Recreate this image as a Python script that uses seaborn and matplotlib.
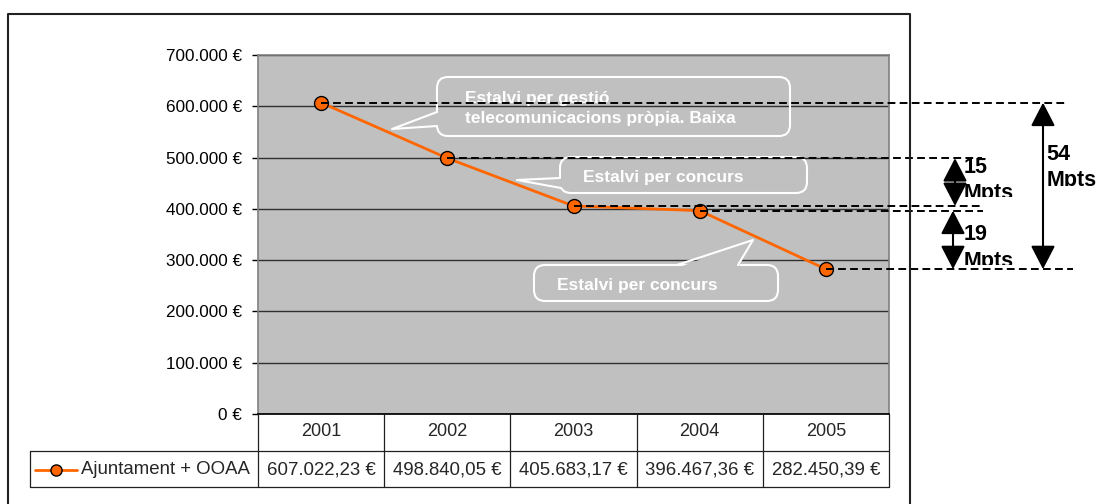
import matplotlib
matplotlib.use("Agg")
import matplotlib.pyplot as plt
import seaborn as sns
from matplotlib.patches import FancyBboxPatch, Polygon
from matplotlib.lines import Line2D
from matplotlib.transforms import Affine2D, Bbox, TransformedBbox, blended_transform_factory

# data
years = [2001, 2002, 2003, 2004, 2005]
cost = [607022.23, 498840.05, 405683.17, 396467.36, 282450.39]
series_name = "Ajuntament + OOAA"
yticks = [0, 100000, 200000, 300000, 400000, 500000, 600000, 700000]
callout_texts = ["Estalvi per gestió\ntelecomunicacions pròpia. Baixa",
                 "Estalvi per concurs", "Estalvi per concurs"]
gap_texts = ["15\nMpts", "19\nMpts", "54\nMpts"]

ORANGE = "#FF6600"
GREY = "#C0C0C0"


def euro(v, dec=0):
    s = f"{v:,.{dec}f}".replace(",", "X").replace(".", ",").replace("X", ".")
    return s + " €"


sns.set_theme(style="white")
plt.rcParams["font.family"] = ["Liberation Sans", "DejaVu Sans"]

W, H = 1098, 504
L, R, T, B = 258, 889, 55, 414   # plot area in pixels

fig = plt.figure(figsize=(W / 100, H / 100), dpi=100)
ax = fig.add_axes([L / W, 1 - B / H, (R - L) / W, (B - T) / H])
ax.set_facecolor(GREY)

# pixel coords (origin top-left) -> display
PX = Affine2D().scale(1 / W, -1 / H).translate(0, 1) + fig.transFigure
XPX = blended_transform_factory(ax.transData, PX)


def xd(px):
    return years[0] - 0.5 + (px - L) / (R - L) * len(years)


sns.lineplot(x=years, y=cost, ax=ax, color=ORANGE, linewidth=2, marker="o",
             markersize=10, markeredgecolor="black", markeredgewidth=1, zorder=5)

ax.set_xlim(years[0] - 0.5, years[-1] + 0.5)
ax.set_ylim(0, 700000)
ax.set_yticks(yticks)
ax.set_yticklabels([euro(v) for v in yticks])
ax.set_xticks([])
ax.set_xlabel("")
ax.set_ylabel("")
ax.tick_params(axis="y", left=True, length=4.5, width=1, color="black",
               pad=7, labelsize=12.3, labelcolor="black")
ax.grid(axis="y", color="#303030", lw=1)
ax.set_axisbelow(True)
for s in ["left", "top", "right"]:
    ax.spines[s].set_color("#808080")
    ax.spines[s].set_linewidth(1.2)
ax.spines["bottom"].set_color("black")

# dashed guide lines from each point
ends = [1068, 982, 983, 983, 1073]
for yr, v, e in zip(years, cost, ends):
    ax.plot([yr, xd(e)], [v, v], color="black", lw=1.4, ls=(0, (4, 2.2)),
            clip_on=False, zorder=6)

# double arrows
arrow_kw = dict(arrowstyle="<|-|>,head_length=1.45,head_width=0.75", color="black",
                lw=1.5, shrinkA=0, shrinkB=0, mutation_scale=10)
for xpx, i, j in [(955, 1, 2), (953, 3, 4), (1043, 0, 4)]:
    ax.annotate("", xy=(xd(xpx), cost[i]), xytext=(xd(xpx), cost[j]),
                arrowprops=arrow_kw, annotation_clip=False)

# gap labels: (x, first baseline, second baseline, clip bottom) in pixels
gap_pos = [(964, 172.7, 199.4, 197.3), (964, 240.1, 267.1, 265), (1046.5, 160.1, 185.6, 186)]
for txt, (x, b1, b2, clip) in zip(gap_texts, gap_pos):
    for line, b in zip(txt.split("\n"), (b1, b2)):
        t = fig.text(x, b, line, transform=PX, ha="left", va="baseline",
                     fontsize=15.5, fontweight="bold", color="black")
        t.set_clip_box(TransformedBbox(Bbox([[0, 1 - clip / H], [1, 1]]), fig.transFigure))

# callouts: box, tail (base, tip, base), text left x and first baseline
callouts = [
    ((437, 77, 790, 136), [(437, 112), (392, 129), (437, 126)], (465, 102.7)),
    ((560, 157, 807, 193), [(560, 178), (517, 180), (561, 188)], (583, 182.3)),
    ((534, 265, 778, 301), [(677, 265), (753, 240), (738, 265)], (557, 290)),
]
for txt, (box, tail, tpos) in zip(callout_texts, callouts):
    x0, y0, x1, y1 = box
    ax.add_patch(FancyBboxPatch((x0, y0), x1 - x0, y1 - y0,
                                boxstyle="round,pad=0,rounding_size=11",
                                transform=PX, fc="none", ec="white", lw=1.5,
                                clip_on=False, zorder=3))
    b1, tip, b2 = tail
    # push the base slightly into the box so the edge under the tail is hidden
    inner = []
    for bx, by in (b1, b2):
        dx = 3 if bx <= x0 + 1 else (-3 if bx >= x1 - 1 else 0)
        dy = 3 if by <= y0 + 1 else (-3 if by >= y1 - 1 else 0)
        inner.append((bx + dx, by + dy))
    ax.add_patch(Polygon([inner[0], tip, inner[1]], closed=True, transform=PX,
                         fc=GREY, ec="none", clip_on=False, zorder=3.1))
    ax.add_line(Line2D([b1[0], tip[0], b2[0]], [b1[1], tip[1], b2[1]],
                       transform=PX, color="white", lw=1.5, clip_on=False, zorder=3.2))
    for k, line in enumerate(txt.split("\n")):
        ax.text(tpos[0], tpos[1] + 20 * k, line, transform=PX, ha="left",
                va="baseline", fontsize=12.5, fontweight="bold", color="white",
                zorder=3.3)

# data table under the axis
edges = [y - 0.5 for y in years] + [years[-1] + 0.5]
for e in edges:
    fig.add_artist(Line2D([e, e], [B, 487], transform=XPX, color="#202020", lw=0.9))
fig.add_artist(Line2D([30, 30], [451, 487], transform=PX, color="#202020", lw=0.9))
for yy in (451, 487):
    fig.add_artist(Line2D([30, R], [yy, yy], transform=PX, color="#202020", lw=0.9))
for yr, v in zip(years, cost):
    fig.text(yr, 432, str(yr), transform=XPX, ha="center", va="center", fontsize=13)
    fig.text(yr, 470, euro(v, 2), transform=XPX, ha="center", va="center", fontsize=13.4)
fig.add_artist(Line2D([35, 77], [470, 470], transform=PX, color=ORANGE, lw=2))
fig.add_artist(Line2D([56], [470], transform=PX, marker="o", markersize=8,
                      markerfacecolor=ORANGE, markeredgecolor="black", markeredgewidth=1))
fig.text(81, 470, series_name, transform=PX, ha="left", va="center", fontsize=13.4)

# outer chart frame
fig.add_artist(Line2D([8, 8, 910, 910], [510, 14, 14, 510], transform=PX,
                      color="#222222", lw=1.5))

fig.savefig("out.png", dpi=100)
